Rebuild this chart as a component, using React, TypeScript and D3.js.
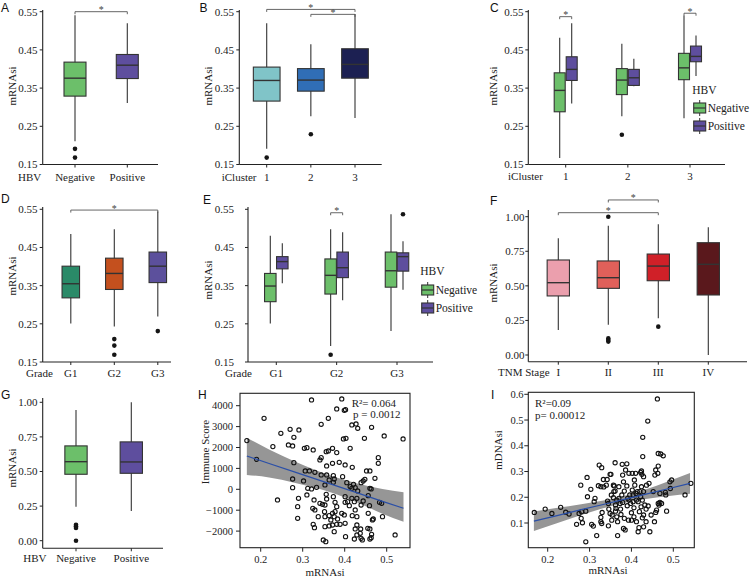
import React from 'react';
import * as d3 from 'd3';

const SERIF = '"Liberation Serif", "Times New Roman", Times, "DejaVu Serif", serif';
const SANS = '"Liberation Sans", Arial, Helvetica, sans-serif';
const INK = '#222';
const BOXLINE = '#333';

// ---------- categories ----------
const hbvGroups = ['Negative', 'Positive'];
const iClusters = ['1', '2', '3'];
const grades = ['G1', 'G2', 'G3'];
const tnmStages = ['I', 'II', 'III', 'IV'];

// ---------- tick values ----------
const mrnaTicks = [0.15, 0.25, 0.35, 0.45, 0.55];
const unitTicks = [0, 0.25, 0.5, 0.75, 1];
const immuneTicks = [-2000, -1000, 0, 1000, 2000, 3000, 4000];
const mrnaXTicks = [0.2, 0.3, 0.4, 0.5];
const mdnaTicks = [0.1, 0.2, 0.3, 0.4, 0.5, 0.6];

// ---------- colours ----------
const GREEN = '#6cbf6a';
const PURPLE = '#5e4e9e';
const hbvColors = [GREEN, PURPLE];
const clusterColors = ['#80c4c8', '#306eb6', '#1c2052'];
const gradeColors = ['#2a8a68', '#c4501e', '#5c509c'];
const stageColors = ['#eb9fad', '#e0605a', '#d02028', '#5a181c'];

// ---------- box statistics: [min, q1, median, q3, max] ----------
const boxA = [[0.211, 0.329, 0.376, 0.418, 0.541], [0.311, 0.375, 0.41, 0.438, 0.52]];
const outA = [[0.191, 0.168], []];

const boxB = [[0.191, 0.316, 0.37, 0.405, 0.52], [0.276, 0.342, 0.371, 0.401, 0.465], [0.272, 0.376, 0.412, 0.453, 0.544]];
const outB = [[0.168], [0.229], []];

const boxCNeg = [[0.167, 0.288, 0.344, 0.39, 0.482], [0.276, 0.333, 0.371, 0.401, 0.466], [0.271, 0.372, 0.403, 0.441, 0.54]];
const boxCPos = [[0.31, 0.37, 0.399, 0.432, 0.52], [0.355, 0.357, 0.377, 0.399, 0.427], [0.382, 0.419, 0.433, 0.46, 0.488]];
const outCNeg = [[], [0.228], []];
const outCPos = [[], [], []];

const boxD = [[0.251, 0.318, 0.355, 0.401, 0.485], [0.243, 0.34, 0.382, 0.422, 0.498], [0.269, 0.358, 0.401, 0.438, 0.544]];
const outD = [[], [0.21, 0.193, 0.169], [0.231]];

const boxENeg = [[0.251, 0.308, 0.349, 0.382, 0.481], [0.192, 0.328, 0.377, 0.42, 0.498], [0.231, 0.346, 0.389, 0.438, 0.537]];
const boxEPos = [[0.356, 0.394, 0.413, 0.426, 0.461], [0.312, 0.371, 0.397, 0.438, 0.49], [0.339, 0.388, 0.426, 0.436, 0.466]];
const outENeg = [[], [0.169], []];
const outEPos = [[], [], [0.537]];

const boxF = [[0.181, 0.427, 0.523, 0.687, 0.844], [0.219, 0.482, 0.559, 0.68, 0.935], [0.265, 0.537, 0.643, 0.73, 0.945], [0.0, 0.434, 0.656, 0.812, 0.923]];
const outF = [[], [1.0, 0.12, 0.108, 0.097], [0.205], []];

const boxG = [[0.245, 0.48, 0.571, 0.685, 0.945], [0.215, 0.487, 0.569, 0.714, 1.0]];
const outG = [[0.115, 0.105, 0.092, 0.0], []];

// ---------- scatter H: [mRNAsi, Immune Score] ----------
const hPoints: [number, number][] = [
  [0.321, 4275], [0.393, 4322], [0.381, 3844], [0.399, 3780], [0.402, 3812], [0.208, 3397], [0.361, 3397], [0.344, 3110], [0.417, 3078], [0.427, 3126],
  [0.431, 2919], [0.464, 2967], [0.248, 2680], [0.27, 2871], [0.291, 2839], [0.279, 2488], [0.397, 2408], [0.403, 2440], [0.447, 2440], [0.494, 2552],
  [0.539, 2408], [0.229, 2042], [0.266, 2121], [0.276, 2074], [0.304, 1962], [0.31, 1994], [0.325, 1882], [0.356, 1802], [0.361, 1834], [0.371, 1962],
  [0.381, 1755], [0.413, 1962], [0.167, 2329], [0.19, 1436], [0.344, 1515], [0.341, 1404], [0.279, 1276], [0.357, 1117], [0.371, 1244], [0.387, 1292],
  [0.401, 1164], [0.418, 1053], [0.48, 1515], [0.48, 1244], [0.306, 877], [0.316, 877], [0.329, 813], [0.344, 686], [0.357, 686], [0.373, 654],
  [0.375, 494], [0.395, 606], [0.452, 877], [0.46, 877], [0.472, 526], [0.276, 494], [0.302, 399], [0.363, 447], [0.373, 335], [0.405, 319],
  [0.421, 239], [0.439, 319], [0.444, 399], [0.448, 479], [0.276, 80], [0.312, 48], [0.321, 16], [0.353, 207], [0.413, 128], [0.417, 48],
  [0.425, 80], [0.431, -80], [0.46, 48], [0.463, 16], [0.333, 96], [0.24, -510], [0.29, -431], [0.31, -271], [0.356, -239], [0.401, -351],
  [0.417, -431], [0.429, -431], [0.423, -590], [0.444, -558], [0.456, -303], [0.483, -622], [0.357, -463], [0.373, -351], [0.288, -829], [0.327, -510],
  [0.341, -670], [0.347, -718], [0.353, -750], [0.377, -622], [0.381, -829], [0.401, -622], [0.407, -590], [0.411, -782], [0.459, -782], [0.488, -670],
  [0.324, -909], [0.329, -989], [0.352, -1069], [0.377, -1069], [0.393, -1148], [0.425, -989], [0.439, -750], [0.288, -1388], [0.353, -1308], [0.363, -1260],
  [0.371, -1148], [0.375, -1308], [0.383, -1420], [0.399, -1228], [0.418, -1260], [0.429, -1308], [0.456, -1148], [0.49, -1308], [0.466, -1467], [0.468, -1420],
  [0.367, -1467], [0.337, -1308], [0.325, -1675], [0.328, -1834], [0.353, -1786], [0.363, -1754], [0.371, -1707], [0.381, -1675], [0.389, -1675], [0.401, -1627],
  [0.375, -2026], [0.425, -1898], [0.429, -1707], [0.438, -1898], [0.455, -1866], [0.46, -1898], [0.437, -2105], [0.349, -2424], [0.355, -2504], [0.402, -2265],
  [0.423, -2377], [0.429, -2185], [0.439, -2345], [0.442, -2424], [0.463, -2313], [0.464, -2153], [0.52, -2185], [0.46, -2377],
];
const hFitX = [0.167, 0.22, 0.28, 0.33, 0.38, 0.43, 0.49, 0.54];
const hFit = [1591, 1235, 833, 497, 162, -173, -576, -909];
const hLo = [690, 562, 318, 72, -240, -628, -1165, -1550];
const hHi = [2470, 1908, 1348, 922, 564, 282, 13, -144];

// ---------- scatter I: [mRNAsi, mDNAsi] ----------
const iPoints: [number, number][] = [
  [0.168, 0.141], [0.194, 0.154], [0.21, 0.137], [0.231, 0.161], [0.243, 0.142], [0.251, 0.135], [0.269, 0.095], [0.279, 0.247], [0.275, 0.137], [0.281, 0.144],
  [0.28, 0.118], [0.283, 0.101], [0.291, 0.146], [0.294, 0.277], [0.291, 0.027], [0.295, 0.202], [0.303, 0.231], [0.305, 0.095], [0.309, 0.088], [0.311, 0.183],
  [0.313, 0.196], [0.317, 0.051], [0.321, 0.245], [0.323, 0.325], [0.329, 0.315], [0.327, 0.241], [0.33, 0.141], [0.327, 0.122], [0.327, 0.105], [0.329, 0.098],
  [0.333, 0.269], [0.334, 0.24], [0.342, 0.269], [0.343, 0.185], [0.345, 0.176], [0.346, 0.154], [0.349, 0.289], [0.351, 0.289], [0.349, 0.137], [0.345, 0.089],
  [0.353, 0.111], [0.354, 0.131], [0.357, 0.247], [0.358, 0.222], [0.357, 0.198], [0.361, 0.334], [0.359, 0.244], [0.361, 0.224], [0.362, 0.17], [0.363, 0.157],
  [0.362, 0.146], [0.365, 0.124], [0.367, 0.105], [0.367, 0.051], [0.37, 0.196], [0.373, 0.176], [0.374, 0.154], [0.375, 0.133], [0.377, 0.209], [0.378, 0.328],
  [0.379, 0.286], [0.381, 0.26], [0.379, 0.18], [0.381, 0.079], [0.383, 0.118], [0.385, 0.073], [0.386, 0.306], [0.389, 0.33], [0.389, 0.244], [0.391, 0.196],
  [0.39, 0.167], [0.393, 0.111], [0.394, 0.293], [0.396, 0.209], [0.398, 0.176], [0.4, 0.14], [0.4, 0.111], [0.402, 0.293], [0.402, 0.228], [0.404, 0.209],
  [0.404, 0.183], [0.406, 0.159], [0.406, 0.124], [0.408, 0.247], [0.41, 0.293], [0.411, 0.215], [0.412, 0.189], [0.412, 0.105], [0.414, 0.222], [0.416, 0.066],
  [0.418, 0.082], [0.419, 0.144], [0.42, 0.222], [0.422, 0.202], [0.422, 0.297], [0.424, 0.302], [0.425, 0.289], [0.424, 0.241], [0.426, 0.189], [0.426, 0.12],
  [0.427, 0.433], [0.427, 0.358], [0.429, 0.28], [0.429, 0.222], [0.429, 0.131], [0.429, 0.085], [0.432, 0.17], [0.435, 0.154], [0.435, 0.105], [0.439, 0.496],
  [0.44, 0.166], [0.442, 0.254], [0.444, 0.066], [0.447, 0.131], [0.452, 0.222], [0.455, 0.105], [0.456, 0.286], [0.458, 0.306], [0.458, 0.141], [0.46, 0.15],
  [0.462, 0.582], [0.463, 0.293], [0.464, 0.37], [0.464, 0.321], [0.464, 0.176], [0.466, 0.17], [0.468, 0.215], [0.468, 0.18], [0.47, 0.368], [0.472, 0.176],
  [0.476, 0.361], [0.481, 0.219], [0.482, 0.209], [0.484, 0.146], [0.492, 0.26], [0.493, 0.234], [0.496, 0.267], [0.528, 0.209], [0.542, 0.254], [0.34, 0.247],
  [0.352, 0.209], [0.365, 0.189], [0.37, 0.241], [0.383, 0.224], [0.394, 0.189], [0.407, 0.267], [0.416, 0.183], [0.436, 0.247], [0.423, 0.163],
];
const iFitX = [0.167, 0.22, 0.28, 0.33, 0.38, 0.43, 0.49, 0.54];
const iFit = [0.107, 0.128, 0.152, 0.171, 0.191, 0.21, 0.234, 0.254];
const iLo = [0.069, 0.098, 0.131, 0.156, 0.178, 0.192, 0.205, 0.214];
const iHi = [0.145, 0.158, 0.173, 0.186, 0.204, 0.228, 0.263, 0.294];

type Lin = d3.ScaleLinear<number, number>;
const serifStyle = { fontFamily: SERIF };

function T(props: any) {
  const { style, ...rest } = props;
  return <text {...rest} style={{ fontFamily: SERIF, ...(style || {}) }} />;
}

function YAxis({ x, top, bottom, scale, ticks, format, labelEnd }: any) {
  return (
    <g>
      <line x1={x} x2={x} y1={top} y2={bottom} stroke={INK} strokeWidth={1.1} />
      {ticks.map((t: number) => (
        <g key={t}>
          <line x1={x - 3} x2={x} y1={scale(t)} y2={scale(t)} stroke={INK} strokeWidth={1} />
          <T x={labelEnd} y={scale(t)} dy="0.35em" textAnchor="end" fontSize={11} fill={INK}>
            {format(t)}
          </T>
        </g>
      ))}
    </g>
  );
}

function XAxis({ y, left, right, cats, scale, labelY, title, titleX }: any) {
  return (
    <g>
      <line x1={left} x2={right} y1={y} y2={y} stroke={INK} strokeWidth={1.1} />
      {cats.map((c: string) => (
        <g key={c}>
          <line x1={scale(c)} x2={scale(c)} y1={y} y2={y + 3} stroke={INK} strokeWidth={1} />
          <T x={scale(c)} y={labelY} dy="0.35em" textAnchor="middle" fontSize={11} fill={INK}>
            {c}
          </T>
        </g>
      ))}
      <T x={titleX} y={labelY} dy="0.35em" fontSize={11} fill={INK}>
        {title}
      </T>
    </g>
  );
}

function BoxGlyph({ x, w, s, outs, y, fill }: { x: number; w: number; s: number[]; outs: number[]; y: Lin; fill: string }) {
  const [mn, q1, md, q3, mx] = s;
  return (
    <g>
      <line x1={x} x2={x} y1={y(mx)} y2={y(mn)} stroke={BOXLINE} strokeWidth={1.1} />
      <rect x={x - w / 2} y={y(q3)} width={w} height={Math.max(0.5, y(q1) - y(q3))} fill={fill} stroke={BOXLINE} strokeWidth={1.1} />
      <line x1={x - w / 2} x2={x + w / 2} y1={y(md)} y2={y(md)} stroke={BOXLINE} strokeWidth={1.4} />
      {outs.map((o, i) => (
        <circle key={i} cx={x} cy={y(o)} r={2.3} fill="#151515" />
      ))}
    </g>
  );
}

function Bracket({ x1, x2, y }: { x1: number; x2: number; y: number }) {
  return (
    <g>
      <path d={`M${x1},${y + 2.5}V${y}H${x2}V${y + 2.5}`} fill="none" stroke="#555" strokeWidth={0.9} />
      <T x={(x1 + x2) / 2} y={y + 1.5} textAnchor="middle" fontSize={10} fill="#444">
        *
      </T>
    </g>
  );
}

function HbvLegend({ x, titleY, rowY }: { x: number; titleY: number; rowY: number[] }) {
  return (
    <g>
      <T x={x - 1.5} y={titleY} dy="0.35em" fontSize={11.5} fill={INK}>
        HBV
      </T>
      {hbvGroups.map((g, i) => (
        <g key={g}>
          <line x1={x + 6} x2={x + 6} y1={rowY[i] - 8} y2={rowY[i] + 8} stroke={BOXLINE} strokeWidth={1} />
          <rect x={x} y={rowY[i] - 5} width={12} height={10} fill={hbvColors[i]} stroke={BOXLINE} strokeWidth={1.1} />
          <line x1={x} x2={x + 12} y1={rowY[i]} y2={rowY[i]} stroke={BOXLINE} strokeWidth={1.2} />
          <T x={x + 14} y={rowY[i]} dy="0.35em" fontSize={11.5} fill={INK}>
            {g}
          </T>
        </g>
      ))}
    </g>
  );
}

function Letter({ x, y, t }: { x: number; y: number; t: string }) {
  return (
    <text x={x} y={y} fontSize={12} fill="#111" style={{ fontFamily: SANS }}>
      {t}
    </text>
  );
}

function YTitle({ x, y, t }: { x: number; y: number; t: string }) {
  return (
    <T transform={`translate(${x},${y}) rotate(-90)`} textAnchor="middle" dy="0.35em" fontSize={11} fill={INK}>
      {t}
    </T>
  );
}

function Scatter({ frame, xs, ys, xTicks, yTicks, xFmt, yFmt, yLabelEnd, xLabelY, points, fitX, fit, lo, hi }: any) {
  const [l, t, r, b] = frame;
  const rows = fitX.map((x: number, i: number) => ({ x, f: fit[i], lo: lo[i], hi: hi[i] }));
  const area = d3
    .area<any>()
    .x((d) => xs(d.x))
    .y0((d) => ys(d.lo))
    .y1((d) => ys(d.hi))
    .curve(d3.curveMonotoneX);
  const line = d3
    .line<any>()
    .x((d) => xs(d.x))
    .y((d) => ys(d.f));
  return (
    <g>
      <path d={area(rows) || ''} fill="#969696" />
      {points.map((p: [number, number], i: number) => (
        <circle key={i} cx={xs(p[0])} cy={ys(p[1])} r={2.1} fill="none" stroke="#111" strokeWidth={1.1} />
      ))}
      <path d={line(rows) || ''} fill="none" stroke="#2a4fa8" strokeWidth={1.2} />
      <rect x={l} y={t} width={r - l} height={b - t} fill="none" stroke={INK} strokeWidth={1.1} />
      {yTicks.map((v: number) => (
        <g key={v}>
          <line x1={l - 4} x2={l} y1={ys(v)} y2={ys(v)} stroke={INK} strokeWidth={1} />
          <T x={yLabelEnd} y={ys(v)} dy="0.35em" textAnchor="end" fontSize={10.5} fill={INK}>
            {yFmt(v)}
          </T>
        </g>
      ))}
      {xTicks.map((v: number) => (
        <g key={v}>
          <line x1={xs(v)} x2={xs(v)} y1={b} y2={b + 4} stroke={INK} strokeWidth={1} />
          <T x={xs(v)} y={xLabelY} dy="0.35em" textAnchor="middle" fontSize={10.5} fill={INK}>
            {xFmt(v)}
          </T>
        </g>
      ))}
    </g>
  );
}

export default function App() {
  const f2 = d3.format('.2f');
  const f1 = d3.format('.1f');
  const fInt = d3.format('d');

  // ---- row 1 scales ----
  const yTop = d3.scaleLinear().domain([0.15, 0.55]).range([164.5, 11.7]);
  const xA = d3.scalePoint<string>().domain(hbvGroups).range([75, 127.3]);
  const xB = d3.scalePoint<string>().domain(iClusters).range([266.7, 355]);
  const xC = d3.scalePoint<string>().domain(iClusters).range([565.7, 690]);
  // ---- row 2 scales ----
  const yMid = d3.scaleLinear().domain([0.15, 0.55]).range([362, 209.3]);
  const xD = d3.scalePoint<string>().domain(grades).range([70.8, 157.8]);
  const xE = d3.scalePoint<string>().domain(grades).range([276.3, 397]);
  const yF = d3.scaleLinear().domain([0, 1]).range([355, 216.7]);
  const xF = d3.scalePoint<string>().domain(tnmStages).range([558.3, 708.3]);
  // ---- row 3 scales ----
  const yG = d3.scaleLinear().domain([0, 1]).range([540.7, 402.3]);
  const xG = d3.scalePoint<string>().domain(hbvGroups).range([76, 131.3]);
  const xH = d3.scaleLinear().domain([0.2, 0.5]).range([260.7, 386.7]);
  const yH = d3.scaleLinear().domain([0, 4000]).range([489.3, 405.7]);
  const xI = d3.scaleLinear().domain([0.2, 0.5]).range([547.7, 673.3]);
  const yI = d3.scaleLinear().domain([0.1, 0.6]).range([523, 394.3]);

  const dodge = 6;

  return (
    <svg
      width={750}
      height={579}
      viewBox="0 0 750 579"
      style={{ position: 'absolute', left: 0, top: 0, background: '#fff', ...serifStyle }}
    >
      <rect x={0} y={0} width={750} height={579} fill="#fff" />

      {/* ===== A ===== */}
      <Letter x={1} y={12} t="A" />
      <YTitle x={12} y={86} t="mRNAsi" />
      {hbvGroups.map((g, i) => (
        <BoxGlyph key={g} x={xA(g)!} w={22} s={boxA[i]} outs={outA[i]} y={yTop} fill={hbvColors[i]} />
      ))}
      <YAxis x={42.7} top={10} bottom={164.5} scale={yTop} ticks={mrnaTicks} format={f2} labelEnd={37.5} />
      <XAxis y={164.5} left={42.7} right={158} cats={hbvGroups} scale={xA} labelY={176.7} title="HBV" titleX={18} />
      <Bracket x1={xA('Negative')!} x2={xA('Positive')!} y={yTop(0.55)} />

      {/* ===== B ===== */}
      <Letter x={199.5} y={12} t="B" />
      <YTitle x={208} y={86} t="mRNAsi" />
      {iClusters.map((c, i) => (
        <BoxGlyph key={c} x={xB(c)!} w={26.7} s={boxB[i]} outs={outB[i]} y={yTop} fill={clusterColors[i]} />
      ))}
      <YAxis x={239.3} top={10} bottom={164.5} scale={yTop} ticks={mrnaTicks} format={f2} labelEnd={234} />
      <XAxis y={164.5} left={239.3} right={381.7} cats={iClusters} scale={xB} labelY={176.7} title="iCluster" titleX={221.7} />
      <Bracket x1={xB('1')!} x2={xB('3')!} y={yTop(0.556)} />
      <Bracket x1={xB('2')!} x2={xB('3')!} y={yTop(0.543)} />

      {/* ===== C ===== */}
      <Letter x={490} y={12} t="C" />
      <YTitle x={493} y={86} t="mRNAsi" />
      {iClusters.map((c, i) => (
        <g key={c}>
          <BoxGlyph x={xC(c)! - dodge} w={11} s={boxCNeg[i]} outs={outCNeg[i]} y={yTop} fill={GREEN} />
          <BoxGlyph x={xC(c)! + dodge} w={11} s={boxCPos[i]} outs={outCPos[i]} y={yTop} fill={PURPLE} />
        </g>
      ))}
      <YAxis x={528.3} top={10} bottom={164.5} scale={yTop} ticks={mrnaTicks} format={f2} labelEnd={523.5} />
      <XAxis y={164.5} left={528.3} right={725} cats={iClusters} scale={xC} labelY={176} title="iCluster" titleX={508} />
      <Bracket x1={xC('1')! - dodge} x2={xC('1')! + dodge} y={yTop(0.537)} />
      <Bracket x1={xC('3')! - dodge} x2={xC('3')! + dodge} y={yTop(0.546)} />
      <HbvLegend x={693.7} titleY={90} rowY={[108, 126]} />

      {/* ===== D ===== */}
      <Letter x={1} y={203} t="D" />
      <YTitle x={12} y={276} t="mRNAsi" />
      {grades.map((g, i) => (
        <BoxGlyph key={g} x={xD(g)!} w={17.5} s={boxD[i]} outs={outD[i]} y={yMid} fill={gradeColors[i]} />
      ))}
      <YAxis x={42.7} top={207} bottom={362} scale={yMid} ticks={mrnaTicks} format={f2} labelEnd={37.5} />
      <XAxis y={362} left={42.7} right={171} cats={grades} scale={xD} labelY={373} title="Grade" titleX={26} />
      <Bracket x1={xD('G1')!} x2={xD('G3')!} y={yMid(0.548)} />

      {/* ===== E ===== */}
      <Letter x={203} y={204} t="E" />
      <YTitle x={208} y={280} t="mRNAsi" />
      {grades.map((g, i) => (
        <g key={g}>
          <BoxGlyph x={xE(g)! - dodge} w={11.5} s={boxENeg[i]} outs={outENeg[i]} y={yMid} fill={GREEN} />
          <BoxGlyph x={xE(g)! + dodge} w={11.5} s={boxEPos[i]} outs={outEPos[i]} y={yMid} fill={PURPLE} />
        </g>
      ))}
      <YAxis x={248} top={207} bottom={362} scale={yMid} ticks={mrnaTicks} format={f2} labelEnd={234} />
      <XAxis y={362} left={248} right={433} cats={grades} scale={xE} labelY={373} title="Grade" titleX={225} />
      <Bracket x1={xE('G2')! - dodge} x2={xE('G2')! + dodge} y={yMid(0.541)} />
      <HbvLegend x={421.7} titleY={271} rowY={[290, 308]} />

      {/* ===== F ===== */}
      <Letter x={490} y={205} t="F" />
      <YTitle x={493} y={283} t="mRNAsi" />
      {tnmStages.map((s, i) => (
        <BoxGlyph key={s} x={xF(s)!} w={22.3} s={boxF[i]} outs={outF[i]} y={yF} fill={stageColors[i]} />
      ))}
      <YAxis x={528.3} top={210} bottom={361.7} scale={yF} ticks={unitTicks} format={f2} labelEnd={524.5} />
      <XAxis y={361.7} left={528.3} right={747} cats={tnmStages} scale={xF} labelY={372.5} title="TNM Stage" titleX={498} />
      <Bracket x1={xF('II')!} x2={xF('III')!} y={yF(1.121)} />
      <Bracket x1={xF('I')!} x2={xF('III')!} y={yF(1.029)} />

      {/* ===== G ===== */}
      <Letter x={1} y={399} t="G" />
      <YTitle x={12} y={468} t="mRNAsi" />
      {hbvGroups.map((g, i) => (
        <BoxGlyph key={g} x={xG(g)!} w={22.3} s={boxG[i]} outs={outG[i]} y={yG} fill={hbvColors[i]} />
      ))}
      <YAxis x={42.7} top={398} bottom={548.3} scale={yG} ticks={unitTicks} format={f2} labelEnd={37.5} />
      <XAxis y={548.3} left={42.7} right={163} cats={hbvGroups} scale={xG} labelY={558.5} title="HBV" titleX={23.3} />

      {/* ===== H ===== */}
      <Letter x={198} y={399} t="H" />
      <YTitle x={205} y={452} t="Immune Score" />
      <Scatter
        frame={[240, 393.3, 410, 547.7]}
        xs={xH}
        ys={yH}
        xTicks={mrnaXTicks}
        yTicks={immuneTicks}
        xFmt={f1}
        yFmt={fInt}
        yLabelEnd={233}
        xLabelY={559.5}
        points={hPoints}
        fitX={hFitX}
        fit={hFit}
        lo={hLo}
        hi={hHi}
      />
      <T x={351.7} y={403} dy="0.35em" fontSize={11} fill={INK}>R²= 0.064</T>
      <T x={353} y={414} dy="0.35em" fontSize={11} fill={INK}>p = 0.0012</T>
      <T x={325} y={572} dy="0.35em" textAnchor="middle" fontSize={11} fill={INK}>mRNAsi</T>

      {/* ===== I ===== */}
      <Letter x={491} y={399} t="I" />
      <YTitle x={498} y={450} t="mDNAsi" />
      <Scatter
        frame={[528.3, 392.3, 694.3, 547.7]}
        xs={xI}
        ys={yI}
        xTicks={mrnaXTicks}
        yTicks={mdnaTicks}
        xFmt={f1}
        yFmt={f1}
        yLabelEnd={523.5}
        xLabelY={559}
        points={iPoints}
        fitX={iFitX}
        fit={iFit}
        lo={iLo}
        hi={iHi}
      />
      <T x={535} y={403.3} dy="0.35em" fontSize={11} fill={INK}>R²=0.09</T>
      <T x={535} y={415} dy="0.35em" fontSize={11} fill={INK}>p= 0.00012</T>
      <T x={608} y={570.5} dy="0.35em" textAnchor="middle" fontSize={11} fill={INK}>mRNAsi</T>
    </svg>
  );
}
